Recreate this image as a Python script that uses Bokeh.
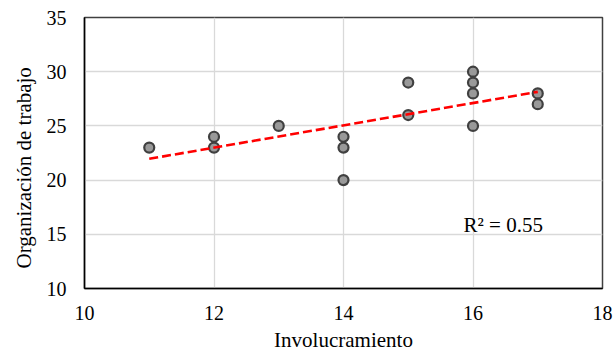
import numpy as np
from bokeh.plotting import figure
from bokeh.models import Range1d, FixedTicker, Label, Title
from bokeh.embed import file_html
from bokeh.resources import INLINE

# Data
involucramiento = [11, 12, 12, 13, 14, 14, 14, 15, 15, 16, 16, 16, 16, 17, 17]
organizacion = [23, 24, 23, 25, 24, 23, 20, 29, 26, 30, 29, 28, 25, 28, 27]
x_ticks = [10, 12, 14, 16, 18]
y_ticks = [10, 15, 20, 25, 30, 35]
x_title = "Involucramiento"
y_title = "Organización de trabajo"
r2_text = "R² = 0.55"

FONT = "Liberation Serif"

p = figure(frame_width=518, frame_height=271, output_backend="svg", toolbar_location=None,
           x_range=Range1d(10, 18), y_range=Range1d(10, 35),
           min_border_left=84, min_border_right=11, min_border_top=17, min_border_bottom=68)

p.background_fill_color = "white"
p.border_fill_color = "white"
p.outline_line_color = "#404040"
p.outline_line_width = 1.5

for ax in (p.xaxis[0], p.yaxis[0]):
    ax.major_label_text_font = FONT
    ax.major_label_text_font_size = "20px"
    ax.major_label_text_color = "#000000"
    ax.axis_label_text_font = FONT
    ax.axis_label_text_font_size = "21px"
    ax.axis_label_text_font_style = "normal"
    ax.axis_label_text_color = "#000000"
    ax.major_tick_line_color = None
    ax.minor_tick_line_color = None
    ax.major_tick_out = 0
    ax.major_tick_in = 0
    ax.minor_tick_out = 0
    ax.minor_tick_in = 0
    ax.axis_line_color = "#000000"
    ax.axis_line_width = 1.5

p.xaxis.ticker = FixedTicker(ticks=x_ticks)
p.yaxis.ticker = FixedTicker(ticks=y_ticks)
p.xaxis.axis_label = x_title
p.xaxis.major_label_standoff = 17
p.xaxis.axis_label_standoff = 5
p.yaxis.major_label_standoff = 18

p.xgrid.grid_line_color = "#d9d9d9"
p.ygrid.grid_line_color = "#d9d9d9"
p.xgrid.grid_line_width = 1.3
p.ygrid.grid_line_width = 1.3

p.scatter(involucramiento, organizacion, size=10, marker="circle",
          fill_color="#999999", line_color="#404040", line_width=2.2)

# Linear trend line
slope, intercept = np.polyfit(involucramiento, organizacion, 1)
xs = [min(involucramiento), max(involucramiento)]
ys = [slope * v + intercept for v in xs]
p.line(xs, ys, line_color="#ff0000", line_width=2.6, line_dash="9 4")

p.add_layout(Label(x=15.853, y=15.9, text=r2_text, text_font=FONT,
                   text_font_size="21px", text_color="#000000",
                   text_baseline="alphabetic"))

# Y axis title, starting a little above the frame bottom as in the reference
p.add_layout(Title(text=y_title, align="left", offset=20, standoff=16,
                   text_font=FONT, text_font_size="21px", text_font_style="normal",
                   text_color="#000000"), "left")

open("out.html", "w").write(file_html(p, INLINE))
